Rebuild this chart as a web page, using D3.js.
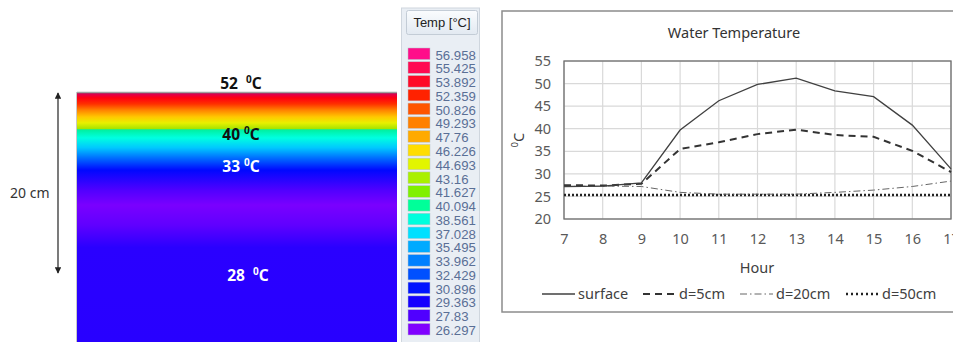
<!DOCTYPE html>
<html>
<head>
<meta charset="utf-8">
<script src="https://cdn.jsdelivr.net/npm/d3@7"></script>
<style>
  body { margin: 0; background: #fff; }
  svg { display: block; }
</style>
</head>
<body>
<svg id="fig" width="953" height="342"></svg>
<script>
// ---- data ----
var hours = [7, 8, 9, 10, 11, 12, 13, 14, 15, 16, 17];
var surface = [27.2, 27.3, 28.0, 39.7, 46.2, 49.8, 51.2, 48.4, 47.1, 40.8, 31.1];
var d5cm   = [27.5, 27.4, 27.8, 35.5, 37.0, 38.8, 39.8, 38.6, 38.2, 35.1, 30.4];
var d20cm  = [27.2, 27.3, 27.2, 25.9, 25.5, 25.5, 25.5, 25.9, 26.4, 27.2, 28.4];
var d50cm  = [25.3, 25.3, 25.3, 25.3, 25.3, 25.3, 25.3, 25.3, 25.3, 25.3, 25.3];
var seriesNames = ["surface", "d=5cm", "d=20cm", "d=50cm"];
var yTicks = [20, 25, 30, 35, 40, 45, 50, 55];

var legendValues = ["56.958", "55.425", "53.892", "52.359", "50.826", "49.293", "47.76", "46.226",
  "44.693", "43.16", "41.627", "40.094", "38.561", "37.028", "35.495", "33.962", "32.429",
  "30.896", "29.363", "27.83", "26.297"];
var legendColors = ["#ff0d8a", "#ff0a52", "#ff0a28", "#ff2200", "#ff5500", "#ff8000", "#ffaa00", "#ffdd00",
  "#e2f500", "#aaf000", "#80f000", "#00ff99", "#00ffdd", "#00e0ff", "#00aaff", "#0080ff", "#0050ff",
  "#0014ff", "#1400ff", "#5000ff", "#8000ff"];

// depth profile of the simulated tank (fraction of depth, colour)
var profileOffsets = [0, 0.006, 0.02, 0.044, 0.068, 0.096, 0.12, 0.143, 0.148, 0.18, 0.22, 0.26, 0.31, 0.39, 0.45, 0.53, 0.62, 1];
var profileColors = ["#b0004a", "#e0004a", "#ff0010", "#ff3000", "#ff8000", "#ffc800", "#e8f000", "#a8e400",
  "#00f0a0", "#00ffe0", "#00c8ff", "#0070ff", "#0008ff", "#5000ff", "#7a00ff", "#6000ff", "#2a00ff", "#2800ff"];
var profileLabels = ["52", "40", "33", "28"];

var svg = d3.select("#fig");
var font = "'Noto Sans', 'Liberation Sans', sans-serif";

// ---- left panel: colour profile ----
var defs = svg.append("defs");
var grad = defs.append("linearGradient").attr("id", "prof")
  .attr("x1", 0).attr("y1", 0).attr("x2", 0).attr("y2", 1);
grad.selectAll("stop").data(profileOffsets).enter().append("stop")
  .attr("offset", function (d) { return d; })
  .attr("stop-color", function (d, i) { return profileColors[i]; });

var tankTop = 93, tankBottom = 342;
svg.append("rect").attr("x", 77).attr("y", tankTop).attr("width", 320).attr("height", tankBottom - tankTop)
  .attr("fill", "url(#prof)");
svg.append("line").attr("x1", 77).attr("x2", 397).attr("y1", tankTop - 0.5).attr("y2", tankTop - 0.5)
  .attr("stroke", "#a0a0a0").attr("stroke-width", 1.5);
svg.append("line").attr("x1", 76.5).attr("x2", 76.5).attr("y1", tankTop - 1).attr("y2", tankBottom)
  .attr("stroke", "#c8c8c8").attr("stroke-width", 1);

var labelPos = [[241, 89, "#111"], [241, 140, "#111"], [241, 172, "#fff"], [248, 281, "#fff"]];
profileLabels.forEach(function (t, i) {
  var p = labelPos[i];
  var tx = svg.append("text").attr("x", p[0]).attr("y", p[1]).attr("text-anchor", "middle")
    .attr("font-family", font).attr("font-size", 15.5).attr("font-weight", "bold").attr("fill", p[2])
    .attr("xml:space", "preserve");
  tx.append("tspan").text(t + (i == 0 || i == 3 ? "  " : " "));
  tx.append("tspan").attr("font-size", 10).attr("dy", -6).text("0");
  tx.append("tspan").attr("dy", 6).text("C");
});

defs.append("marker").attr("id", "arr").attr("viewBox", "0 0 10 10").attr("refX", 9).attr("refY", 5)
  .attr("markerWidth", 5).attr("markerHeight", 5).attr("orient", "auto-start-reverse")
  .append("path").attr("d", "M0,0L10,5L0,10z").attr("fill", "#222");
svg.append("line").attr("x1", 58).attr("x2", 58).attr("y1", 93).attr("y2", 273)
  .attr("stroke", "#333").attr("stroke-width", 1.3)
  .attr("marker-start", "url(#arr)").attr("marker-end", "url(#arr)");
svg.append("text").attr("x", 10).attr("y", 198).attr("font-family", font).attr("font-size", 14)
  .attr("fill", "#333").text("20 cm");

// ---- colour legend ----
svg.append("rect").attr("x", 401.5).attr("y", 8).attr("width", 78).attr("height", 340)
  .attr("fill", "#e9eef4").attr("stroke", "#cfd6de");
var hg = defs.append("linearGradient").attr("id", "hdr").attr("x1", 0).attr("y1", 0).attr("x2", 0).attr("y2", 1);
hg.append("stop").attr("offset", 0).attr("stop-color", "#fafcfe");
hg.append("stop").attr("offset", 1).attr("stop-color", "#e2e9f1");
svg.append("rect").attr("x", 406.5).attr("y", 10.5).attr("width", 71).attr("height", 24).attr("rx", 2)
  .attr("fill", "url(#hdr)").attr("stroke", "#c3ccd6");
svg.append("text").attr("x", 442).attr("y", 27).attr("text-anchor", "middle")
  .attr("font-family", "'Liberation Sans', Arial, sans-serif").attr("font-size", 13).attr("fill", "#222")
  .text("Temp [°C]");

var ly = d3.scaleBand().domain(d3.range(legendValues.length)).range([48, 335]).paddingInner(0.16);
var items = svg.append("g").selectAll("g").data(legendValues).enter().append("g")
  .attr("transform", function (d, i) { return "translate(0," + ly(i) + ")"; });
items.append("rect").attr("x", 408).attr("width", 22).attr("height", ly.bandwidth())
  .attr("fill", function (d, i) { return legendColors[i]; })
  .attr("stroke", "#b8c2cc").attr("stroke-width", 0.5);
items.append("text").attr("x", 435.5).attr("y", ly.bandwidth())
  .attr("font-family", "'Liberation Sans', Arial, sans-serif").attr("font-size", 13.2)
  .attr("fill", "#5a6f96").text(function (d) { return d; });

// ---- line chart ----
svg.append("rect").attr("x", 502).attr("y", 11).attr("width", 470).attr("height", 301)
  .attr("fill", "#fff").attr("stroke", "#8c8c8c").attr("stroke-width", 1.5);

var x = d3.scaleLinear().domain([7, 17]).range([564, 951]);
var y = d3.scaleLinear().domain([20, 55]).range([219, 61]);

var grid = svg.append("g").attr("stroke", "#d9d9d9").attr("stroke-width", 1.2);
grid.selectAll(".h").data(yTicks).enter().append("line")
  .attr("x1", x(7)).attr("x2", x(17)).attr("y1", function (d) { return y(d); }).attr("y2", function (d) { return y(d); });
grid.selectAll(".v").data(hours).enter().append("line")
  .attr("y1", y(20)).attr("y2", y(55)).attr("x1", function (d) { return x(d); }).attr("x2", function (d) { return x(d); });

svg.append("rect").attr("x", x(7)).attr("y", y(55)).attr("width", x(17) - x(7)).attr("height", y(20) - y(55))
  .attr("fill", "none").attr("stroke", "#6e6e6e").attr("stroke-width", 1.3);

var yAxis = svg.append("g").attr("transform", "translate(" + x(7) + ",0)")
  .call(d3.axisLeft(y).tickValues(yTicks).tickSize(0).tickPadding(13));
var xAxis = svg.append("g").attr("transform", "translate(0," + y(20) + ")")
  .call(d3.axisBottom(x).tickValues(hours).tickSize(0).tickPadding(15).tickFormat(d3.format("d")));
[xAxis, yAxis].forEach(function (a) {
  a.select(".domain").remove();
  a.selectAll("text").attr("font-family", font).attr("font-size", 14.5).attr("fill", "#595959");
});

svg.append("text").attr("x", 734).attr("y", 38).attr("text-anchor", "middle")
  .attr("font-family", font).attr("font-size", 14.5).attr("fill", "#333").text("Water Temperature");
svg.append("text").attr("x", 757).attr("y", 273).attr("text-anchor", "middle")
  .attr("font-family", font).attr("font-size", 14.5).attr("fill", "#404040").text("Hour");

var yt = svg.append("text").attr("transform", "translate(524,140) rotate(-90)").attr("text-anchor", "middle")
  .attr("font-family", font).attr("font-size", 14.5).attr("fill", "#404040");
yt.append("tspan").attr("font-size", 9).attr("dy", -6).text("0");
yt.append("tspan").attr("dy", 6).text("C");

var styles = [
  { dash: null, width: 1.3, color: "#404040" },
  { dash: "7,5", width: 2, color: "#333" },
  { dash: "7,3,1.5,3", width: 1, color: "#666" },
  { dash: "2,2", width: 2.6, color: "#222" }
];
var allSeries = [surface, d5cm, d20cm, d50cm];
var line = d3.line().x(function (d, i) { return x(hours[i]); }).y(function (d) { return y(d); });

var clip = defs.append("clipPath").attr("id", "plotclip");
clip.append("rect").attr("x", x(7)).attr("y", y(55)).attr("width", x(17) - x(7) + 2).attr("height", y(20) - y(55));

svg.append("g").attr("clip-path", "url(#plotclip)").selectAll("path").data(allSeries.slice().reverse()).enter().append("path")
  .attr("d", line)
  .attr("fill", "none")
  .attr("stroke", function (d, i) { return styles[3 - i].color; })
  .attr("stroke-width", function (d, i) { return styles[3 - i].width; })
  .attr("stroke-dasharray", function (d, i) { return styles[3 - i].dash; });

// legend row
var legX = [542, 643, 740, 846];
var leg = svg.append("g").selectAll("g").data(seriesNames).enter().append("g")
  .attr("transform", function (d, i) { return "translate(" + legX[i] + ",294)"; });
leg.append("line").attr("x1", 0).attr("x2", 33)
  .attr("stroke", function (d, i) { return styles[i].color; })
  .attr("stroke-width", function (d, i) { return styles[i].width; })
  .attr("stroke-dasharray", function (d, i) { return i == 3 ? "2,3" : styles[i].dash; });
leg.append("text").attr("x", 36).attr("y", 5).attr("font-family", font).attr("font-size", 14.5)
  .attr("fill", "#404040").text(function (d) { return d; });
</script>
</body>
</html>
